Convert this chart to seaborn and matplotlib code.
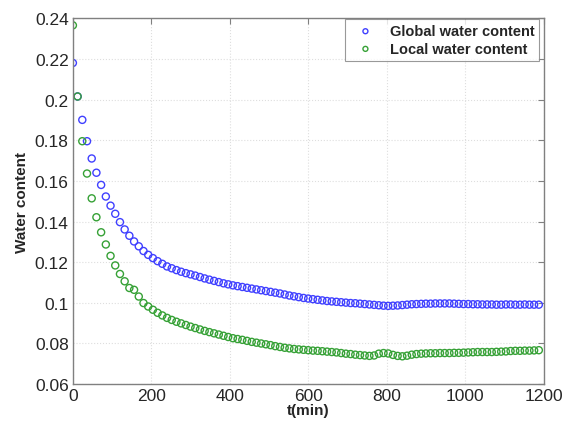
import numpy as np
import pandas as pd
import matplotlib
matplotlib.use("Agg")
import matplotlib.pyplot as plt
import seaborn as sns
from matplotlib.ticker import FormatStrFormatter

# tempo de amostragem (min), passo de 12 min
tempo = list(range(0, 1200, 12))

global_agua = [
    0.2180, 0.2015, 0.1900, 0.1795, 0.1710, 0.1640, 0.1580, 0.1523, 0.1478, 0.1438,
    0.1397, 0.1361, 0.1330, 0.1302, 0.1278, 0.1255, 0.1236, 0.1220, 0.1205, 0.1192,
    0.1179, 0.1170, 0.1161, 0.1153, 0.1146, 0.1140, 0.1134, 0.1127, 0.1120, 0.1114,
    0.1108, 0.1102, 0.1096, 0.1091, 0.1086, 0.1082, 0.1078, 0.1074, 0.1070, 0.1066,
    0.1062, 0.1058, 0.1054, 0.1050, 0.1046, 0.1041, 0.1036, 0.1032, 0.1028, 0.1024,
    0.1021, 0.1018, 0.1015, 0.1012, 0.1009, 0.1007, 0.1005, 0.1003, 0.1001, 0.0999,
    0.0998, 0.0996, 0.0994, 0.0992, 0.0990, 0.0988, 0.0986, 0.0985, 0.0986, 0.0987,
    0.0989, 0.0991, 0.0993, 0.0994, 0.0995, 0.0996, 0.0996, 0.0997, 0.0997, 0.0997,
    0.0997, 0.0996, 0.0995, 0.0994, 0.0994, 0.0993, 0.0993, 0.0992, 0.0992, 0.0992,
    0.0991, 0.0991, 0.0992, 0.0992, 0.0991, 0.0991, 0.0992, 0.0991, 0.0991, 0.0991,
]

local_agua = [
    0.2365, 0.2015, 0.1795, 0.1636, 0.1514, 0.1421, 0.1347, 0.1287, 0.1231, 0.1184,
    0.1142, 0.1106, 0.1073, 0.1064, 0.1031, 0.0999, 0.0982, 0.0966, 0.0951, 0.0938,
    0.0926, 0.0916, 0.0907, 0.0899, 0.0891, 0.0883, 0.0876, 0.0869, 0.0862, 0.0856,
    0.0850, 0.0844, 0.0838, 0.0832, 0.0826, 0.0822, 0.0818, 0.0813, 0.0808, 0.0804,
    0.0800, 0.0796, 0.0792, 0.0787, 0.0783, 0.0779, 0.0776, 0.0773, 0.0771, 0.0769,
    0.0767, 0.0765, 0.0764, 0.0762, 0.0760, 0.0758, 0.0756, 0.0753, 0.0750, 0.0748,
    0.0745, 0.0743, 0.0741, 0.0739, 0.0741, 0.0750, 0.0753, 0.0751, 0.0744, 0.0739,
    0.0737, 0.0740, 0.0745, 0.0748, 0.0750, 0.0751, 0.0752, 0.0752, 0.0753, 0.0753,
    0.0753, 0.0754, 0.0754, 0.0755, 0.0756, 0.0757, 0.0758, 0.0758, 0.0758, 0.0758,
    0.0759, 0.0760, 0.0761, 0.0763, 0.0764, 0.0764, 0.0765, 0.0765, 0.0766, 0.0767,
]

rotulos = ["Global water content", "Local water content"]
cores = ["#4040ff", "#36a136"]
yticks = [0.06, 0.08, 0.1, 0.12, 0.14, 0.16, 0.18, 0.2, 0.22, 0.24]
xticks = [0, 200, 400, 600, 800, 1000, 1200]

df = pd.DataFrame({"t": tempo, rotulos[0]: global_agua, rotulos[1]: local_agua})
df = df.melt(id_vars="t", var_name="serie", value_name="agua")

sns.set_style("white")
plt.rcParams["font.family"] = ["Liberation Sans", "DejaVu Sans"]

fig = plt.figure(figsize=(5.65, 4.27), dpi=100)
ax = fig.add_axes([0.129, 0.098, 0.833, 0.857])

for nome, cor in zip(rotulos, cores):
    sub = df[df["serie"] == nome]
    sns.scatterplot(data=sub, x="t", y="agua", ax=ax, marker="o", s=26,
                    facecolor="none", edgecolor=cor, linewidth=1.0, label=nome)

ax.set_xlim(0, 1200)
ax.set_ylim(0.06, 0.24)
ax.set_xticks(xticks)
ax.set_yticks(yticks)
ax.yaxis.set_major_formatter(FormatStrFormatter("%g"))
ax.grid(True, linestyle=":", color="#dedede", linewidth=0.8)
ax.tick_params(direction="in", length=4, color="#808080", labelsize=12.5,
               top=True, right=True, pad=3)
for sp in ax.spines.values():
    sp.set_color("#808080")
    sp.set_linewidth(1.0)

ax.set_xlabel("t(min)", fontsize=11, fontweight="bold", labelpad=0)
ax.set_ylabel("Water content", fontsize=11, fontweight="bold", labelpad=4)

leg = ax.legend(loc="upper right", bbox_to_anchor=(0.991, 0.998),
                prop={"weight": "bold", "size": 10.5},
                frameon=True, fancybox=False, edgecolor="#808080",
                borderaxespad=0, borderpad=0.35, handlelength=2.05,
                handletextpad=0.63, markerscale=0.7, labelspacing=0.25)
leg.get_frame().set_linewidth(0.8)

fig.savefig("out.png", dpi=100)
